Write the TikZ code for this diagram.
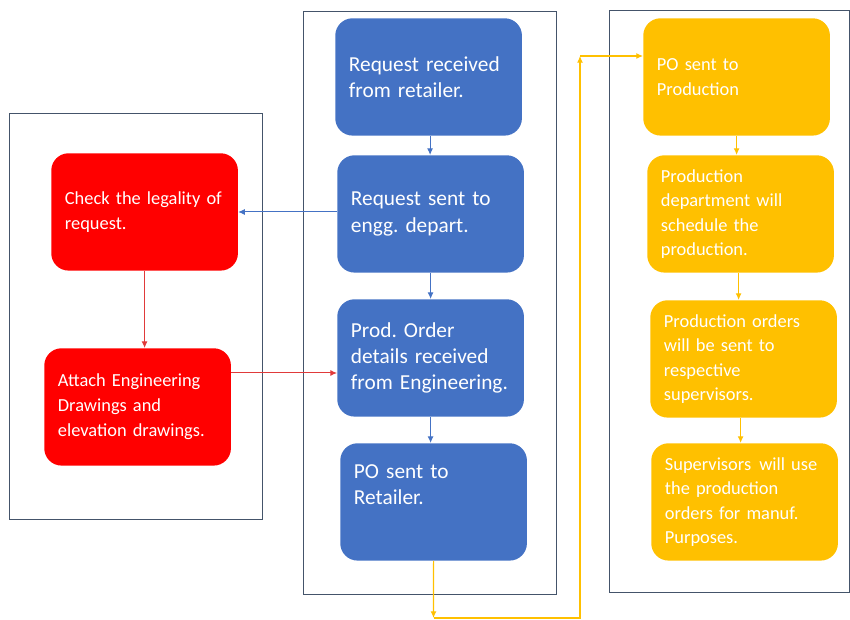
\documentclass[tikz,border=0pt]{standalone}
\usepackage{fontspec}
\setmainfont{Carlito}
\usetikzlibrary{arrows.meta}
\definecolor{cblue}{HTML}{4472C4}
\definecolor{cred}{HTML}{FF0000}
\definecolor{cyel}{HTML}{FFC000}
\definecolor{cframe}{HTML}{44546A}
\definecolor{credline}{HTML}{E03A3A}
\frenchspacing
\begin{document}
\begin{tikzpicture}[x=0.75pt,y=-0.75pt,
  frame/.style={draw=cframe,line width=0.7pt},
  box/.style={rounded corners=13pt,minimum width=140pt,minimum height=88pt,
    text width=119.5pt,align=left,text=white,inner xsep=10.25pt,inner ysep=0pt,
    anchor=north west},
  bluebox/.style={box,fill=cblue,font=\fontsize{16}{19.8}\selectfont},
  redbox/.style={box,fill=cred,font=\fontsize{13.8}{18.8}\selectfont},
  yelbox/.style={box,fill=cyel,font=\fontsize{13.8}{18.4}\selectfont},
  tip/.style={-{Latex[length=5pt,width=4.5pt]}},
  barrow/.style={tip,draw=cblue,line width=0.75pt},
  rarrow/.style={tip,draw=credline,line width=0.75pt},
  yarrow/.style={tip,draw=cyel,line width=0.9pt}]
\useasboundingbox (0,0) rectangle (850,620);

% lane frames
\draw[frame] (9,113) rectangle (262,519);
\draw[frame] (303,11) rectangle (556,594);
\draw[frame] (609,10) rectangle (849.5,592);

% engineering lane (middle)
\node[bluebox] (b1) at (335,18) {Request received\\from retailer.};
\node[bluebox] (b2) at (337,155) {Request sent to\\engg. depart.};
\node[bluebox] (b3) at (337,299) {Prod. Order\\details received\\from Engineering.};
\node[bluebox] (b4) at (340,443) {PO sent to\\Retailer.\\\strut};

% legal lane (left)
\node[redbox] (r1) at (51,153) {Check the legality of\\request.};
\node[redbox] (r2) at (44,348) {Attach Engineering\\Drawings and\\elevation drawings.};

% production lane (right)
\node[yelbox] (y1) at (643,18) {PO sent to\\Production};
\node[yelbox] (y2) at (647,155) {Production\\department will\\schedule the\\production.};
\node[yelbox] (y3) at (650,300) {Production orders\\will be sent to\\respective\\supervisors.};
\node[yelbox] (y4) at (651,443) {Supervisors\hspace{1.5pt} will use\\the production\\orders for manuf.\\Purposes.};

% flow inside the engineering lane
\draw[barrow] (b1.south) ++(1.5,0) coordinate (b1s) -- (b1s |- b2.north);
\draw[barrow] (b2.south) coordinate (b2s) -- (b2s |- b3.north);
\draw[barrow] (b3.south) coordinate (b3s) -- (b3s |- b4.north);

% hand-off to the legal lane and back
\coordinate (hb) at (0,212);
\draw[barrow] (b2.west |- hb) -- (r1.east |- hb);
\draw[rarrow] (r1.south) -- (r1.south |- r2.north);
\coordinate (hr) at (0,373);
\draw[rarrow] (r2.east |- hr) -- (b3.west |- hr);

% flow inside the production lane
\draw[yarrow] (y1.south) -- (y1.south |- y2.north);
\draw[yarrow] (y2.south) ++(-2,0) coordinate (y2s) -- (y2s |- y3.north);
\draw[yarrow] (y3.south) ++(-3,0) coordinate (y3s) -- (y3s |- y4.north);

% PO loop from retailer order to production
\coordinate (c1) at (433.5,618);
\coordinate (c2) at (580,618);
\coordinate (c3) at (580,56);
\draw[yarrow] (b4.south) -- (c1);
\draw[yarrow] (c1) -- (c2) -- (c3);
\draw[yarrow] (c3) -- (y1.west |- c3);
\end{tikzpicture}
\end{document}
